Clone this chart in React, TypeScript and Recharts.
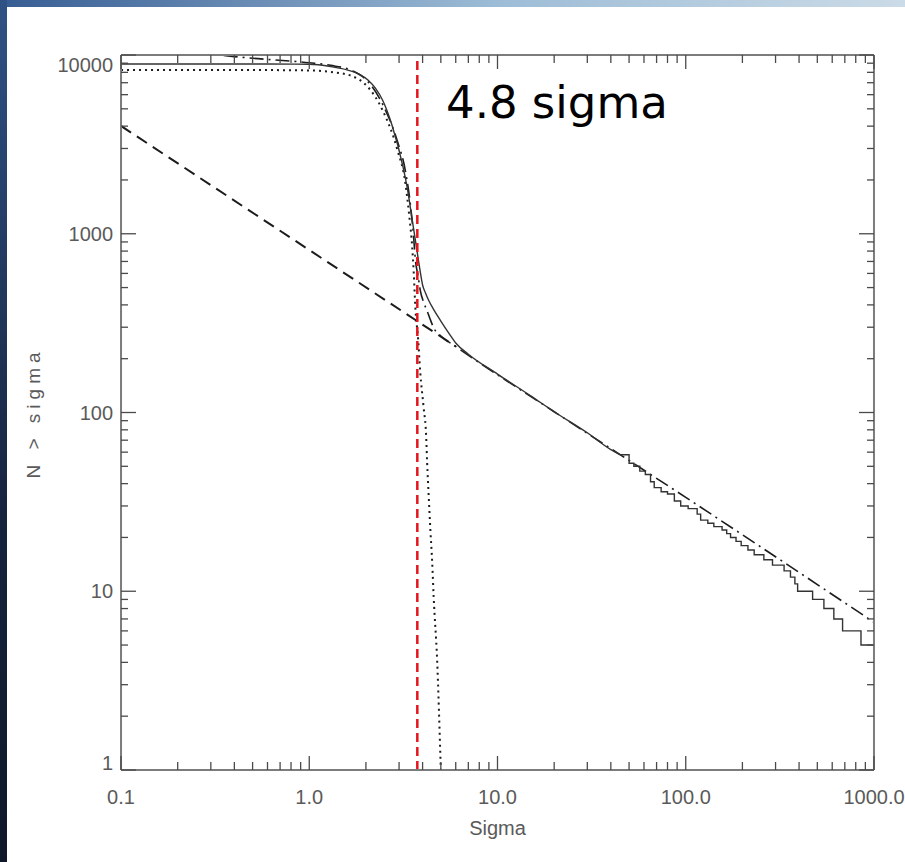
import React from 'react';
import { LineChart, Line, XAxis, YAxis, ReferenceLine } from 'recharts';

// observed counts N > sigma, smooth upper part
const sigmaObsHead = [0.1, 0.3, 0.6, 1.0, 1.3, 1.6, 1.85, 2.05, 2.25, 2.45, 2.75, 3.15, 3.33, 3.5, 3.66, 3.78, 3.88, 4.0, 4.15, 4.3, 4.6, 5.0, 5.5, 6.0, 7, 10, 15, 20, 30, 40, 45];
const countObsHead = [8910, 8900, 8900, 8880, 8620, 8240, 7800, 7250, 6500, 5600, 4060, 2360, 1760, 1250, 923, 741, 620, 517, 465, 426, 374, 325, 279, 245, 212, 164, 124, 101, 77, 62, 58];

// observed counts, stepped tail
const sigmaObsTail = [45, 50, 53, 57, 61, 65, 68, 74, 80, 87, 94, 103, 115, 120, 131, 141, 156, 165, 173, 185, 197, 214, 231, 260, 289, 333, 360, 380, 393, 472, 542, 612, 681, 853, 1000];
const countObsTail = [58, 52, 50, 47, 45, 41, 38, 36, 35, 32, 30, 29, 27, 25, 24, 23, 22, 21, 20, 19, 18, 17, 16, 15, 14, 13, 12, 11, 10, 9, 8, 7, 6, 5, 5];

// gaussian noise component (dotted)
const sigmaGauss = [0.1, 0.5, 1.0, 1.3, 1.7, 2.05, 2.45, 2.94, 3.24, 3.4, 3.52, 3.59, 3.66, 3.79, 3.89, 4.05, 4.18, 4.23, 4.31, 4.4, 4.5, 4.58, 4.78, 4.98, 5.0];
const countGauss = [8240, 8240, 8200, 8050, 7600, 6620, 4920, 2940, 1920, 1250, 850, 603, 389, 255, 166, 107, 73, 52, 34, 22, 14.4, 9.3, 4.1, 1.14, 1];

// power law component (dashed)
const sigmaPower = [0.1, 6];
const countPower = [4010, 234];

// total model (dash-dot)
const sigmaModel = [0.1, 0.2, 0.3, 0.4, 0.6, 1.0, 1.3, 1.7, 2.05, 2.45, 2.94, 3.24, 3.45, 3.59, 3.66, 3.79, 3.89, 4.05, 4.23, 4.4, 4.6, 5.0, 6, 20, 100, 1000];
const countModel = [12300, 10800, 10150, 9800, 9450, 9050, 8750, 8150, 7100, 5320, 3290, 2250, 1440, 937, 720, 576, 481, 414, 370, 330, 295, 268, 234, 101, 33.5, 6.7];

const cutSigma = 3.75;

const sigmaTicks = [0.1, 1, 10, 100, 1000];
const countTicks = [1, 10, 100, 1000, 10000];
const minorSteps = [2, 3, 4, 5, 6, 7, 8, 9];
const sigmaMinor = sigmaTicks.slice(0, -1).flatMap((d) => minorSteps.map((m) => d * m));
const countMinor = countTicks.slice(0, -1).flatMap((d) => minorSteps.map((m) => d * m));

const zip = (s: number[], n: number[]) => s.map((v, i) => ({ s: v, n: n[i] }));

const obsHead = zip(sigmaObsHead, countObsHead);
const obsTail = zip(sigmaObsTail, countObsTail);
const gauss = zip(sigmaGauss, countGauss);
const power = zip(sigmaPower, countPower);
const model = zip(sigmaModel, countModel);

const AXIS = '#7c7c7c';
const TICK = '#4a4a4a';
const LABEL = '#5a5a5a';
const FONT = '"Liberation Sans", Arial, sans-serif';

const axisLine = { stroke: AXIS, strokeWidth: 2 };

type Side = 'bottom' | 'top' | 'left' | 'right';

// IDL style: tick marks point into the plot, labels sit outside
function makeTick(side: Side, len: number, labelled: boolean) {
  return (props: any) => {
    const { x, y, payload } = props;
    const v = payload.value;
    if (side === 'bottom' || side === 'top') {
      const y2 = side === 'bottom' ? y - len : y + len;
      return (
        <g>
          <line x1={x} x2={x} y1={y} y2={y2} stroke={TICK} strokeWidth={1.3} />
          {labelled && (
            <text x={x} y={y + 20} dy="0.71em" textAnchor="middle" fill={LABEL} fontSize={20} fontFamily={FONT}>
              {v.toFixed(1)}
            </text>
          )}
        </g>
      );
    }
    const x2 = side === 'left' ? x + len : x - len;
    const nudge = v === countTicks[countTicks.length - 1] ? 10 : v === countTicks[0] ? -7 : 0;
    return (
      <g>
        <line x1={x} x2={x2} y1={y} y2={y} stroke={TICK} strokeWidth={1.3} />
        {labelled && (
          <text x={x - 8} y={y + nudge} dy="0.36em" textAnchor="end" fill={LABEL} fontSize={20} fontFamily={FONT}>
            {v}
          </text>
        )}
      </g>
    );
  };
}

export default function App() {
  // axes are nearly zero-sized so that they all sit on the plot edges
  const xCommon = { type: 'number' as const, scale: 'log' as const, domain: [0.1, 1000], allowDataOverflow: true, interval: 0, height: 0.01, dataKey: 's', tickSize: 0, tickMargin: 0, tickLine: false };
  const yCommon = { type: 'number' as const, scale: 'log' as const, domain: [1, 10000], allowDataOverflow: true, interval: 0, width: 0.01, tickSize: 0, tickMargin: 0, tickLine: false };

  return (
    <div style={{ position: 'absolute', left: 0, top: 0, width: 905, height: 862, overflow: 'hidden', background: 'linear-gradient(to right, #365c93, #9dbcd6 55%, #cbdbe7)' }}>
      <div style={{ position: 'absolute', left: 0, top: 0, width: 7, height: 862, background: 'linear-gradient(to bottom, #2f5285, #16233d 60%, #0f1829)' }} />
      <div style={{ position: 'absolute', left: 7, top: 7, width: 898, height: 855, background: '#ffffff' }} />
      <div style={{ position: 'absolute', left: 0, top: 0 }}>
        <LineChart width={905} height={862} margin={{ top: 55, right: 31, bottom: 92, left: 121 }}>
          <XAxis
            {...xCommon}
            xAxisId="x"
            ticks={sigmaTicks}
            tick={makeTick('bottom', 14, true)}
            axisLine={axisLine}
            label={{ value: 'Sigma', position: 'bottom', offset: 51, fill: LABEL, fontSize: 20, fontFamily: FONT }}
          />
          <XAxis {...xCommon} xAxisId="xm" ticks={sigmaMinor} tick={makeTick('bottom', 8, false)} axisLine={false} />
          <XAxis {...xCommon} xAxisId="xt" orientation="top" ticks={sigmaTicks} tick={makeTick('top', 14, false)} axisLine={axisLine} />
          <XAxis {...xCommon} xAxisId="xtm" orientation="top" ticks={sigmaMinor} tick={makeTick('top', 8, false)} axisLine={false} />

          <YAxis {...yCommon} yAxisId="y" ticks={countTicks} tick={makeTick('left', 15, true)} axisLine={axisLine} />
          <YAxis {...yCommon} yAxisId="ym" ticks={countMinor} tick={makeTick('left', 7, false)} axisLine={false} />
          <YAxis {...yCommon} yAxisId="yr" orientation="right" ticks={countTicks} tick={makeTick('right', 15, false)} axisLine={axisLine} />
          <YAxis {...yCommon} yAxisId="yrm" orientation="right" ticks={countMinor} tick={makeTick('right', 7, false)} axisLine={false} />

          <Line xAxisId="x" yAxisId="y" data={power} dataKey="n" type="linear" stroke="#1c1c1c" strokeWidth={2} strokeDasharray="12 7" dot={false} activeDot={false} isAnimationActive={false} />
          <Line xAxisId="x" yAxisId="y" data={model} dataKey="n" type="monotoneX" stroke="#1c1c1c" strokeWidth={1.6} strokeDasharray="14 5 2 5" dot={false} activeDot={false} isAnimationActive={false} />
          <Line xAxisId="x" yAxisId="y" data={gauss} dataKey="n" type="monotoneX" stroke="#1c1c1c" strokeWidth={2} strokeDasharray="2 4" dot={false} activeDot={false} isAnimationActive={false} />
          <Line xAxisId="x" yAxisId="y" data={obsHead} dataKey="n" type="monotoneX" stroke="#333333" strokeWidth={1.4} dot={false} activeDot={false} isAnimationActive={false} />
          <Line xAxisId="x" yAxisId="y" data={obsTail} dataKey="n" type="stepAfter" stroke="#333333" strokeWidth={1.4} dot={false} activeDot={false} isAnimationActive={false} />

          <ReferenceLine xAxisId="x" yAxisId="y" x={cutSigma} stroke="#e3161e" strokeWidth={2.5} strokeDasharray="9 5" />
        </LineChart>
      </div>
      <svg width={905} height={862} style={{ position: 'absolute', left: 0, top: 0, pointerEvents: 'none' }}>
        <text x={446} y={118} fontSize={45} fontFamily='"DejaVu Sans", Verdana, sans-serif' fill="#000000">
          4.8 sigma
        </text>
        <text
          transform="translate(40,413) rotate(-90)"
          textAnchor="middle"
          fontSize={19}
          letterSpacing={5}
          fontFamily={FONT}
          fill={LABEL}
        >
          N &gt; sigma
        </text>
      </svg>
    </div>
  );
}
